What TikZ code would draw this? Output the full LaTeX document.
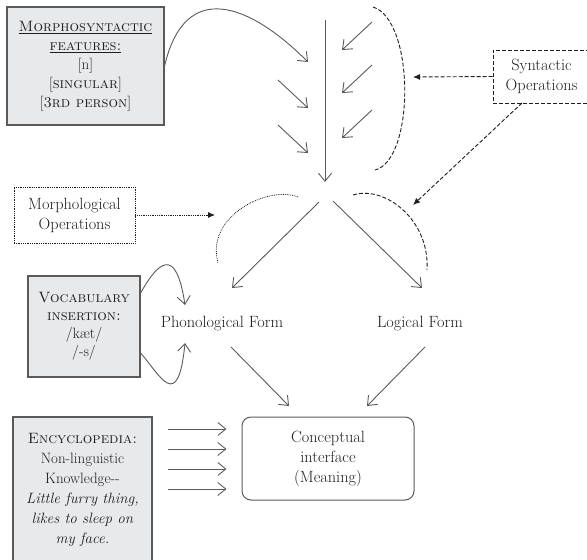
\documentclass[tikz,border=0pt]{standalone}
\usetikzlibrary{arrows.meta}
\definecolor{linegray}{HTML}{5A5A5A}
\definecolor{boxgray}{HTML}{E8E9EB}
\definecolor{inkgray}{HTML}{1E1E1E}
\begin{document}
\begin{tikzpicture}[x=1pt,y=-1pt,
  font=\fontsize{16.3}{20}\selectfont, text=inkgray,
  flow/.style={draw=linegray,line width=0.9pt,-{Straight Barb[length=8pt,width=13pt]}},
  graybox/.style={draw=linegray,fill=boxgray,line width=1.2pt,align=center,inner sep=0pt},
  opdashed/.style={draw=inkgray,line width=0.9pt,dash pattern=on 4pt off 2pt},
  opdotted/.style={draw=inkgray,line width=0.8pt,densely dotted},
  optip/.style={-{Latex[length=7pt,width=6pt]}}]
\useasboundingbox (0,0) rectangle (587,560);
% boxes on the left
\node[graybox,minimum width=157pt,minimum height=118pt,font=\fontsize{15}{19}\selectfont] (features) at (85.5,66)
  {\underline{\textsc{Morphosyntactic}}\\ \underline{\textsc{features:}}\\ {[n]}\\ {[\textsc{singular}]}\\ {[\textsc{3rd person}]}};
\node[opdotted,align=center,minimum width=121pt,minimum height=56pt] (morphops) at (74.5,215) {Morphological\\ Operations};
\node[graybox,minimum width=112pt,minimum height=101pt,font=\fontsize{15}{18}\selectfont] (vocab) at (84,326.5)
  {\textsc{Vocabulary}\\ \textsc{insertion:}\\ /kæt/\\ /-s/};
\node[graybox,minimum width=139pt,minimum height=145pt,font=\fontsize{15}{20}\selectfont] (ency) at (82.5,489.5)
  {\textsc{Encyclopedia:}\\ Non-linguistic\\ Knowledge-{}-\\ \textit{Little furry thing,}\\ \textit{likes to sleep on}\\ \textit{my face.}};
% boxes on the right
\node[opdashed,align=center,minimum width=97pt,minimum height=53pt] (synops) at (541.5,76.5) {Syntactic\\ Operations};
\node (pf) at (222,324) {Phonological Form};
\node (lf) at (420,324) {Logical Form};
\node[draw=linegray,line width=1pt,rounded corners=9pt,align=center,minimum width=172pt,minimum height=83pt] (concept) at (328,458.5)
  {Conceptual\\ interface\\ (Meaning)};
% syntax column
\coordinate (top) at (325,20);
\coordinate (split) at (325,182);
\draw[flow] (top) -- (split);
\draw[flow] (features.east |- 0,66) .. controls (185,-22) and (250,4) .. (308,62);
\foreach \y in {80,125} \draw[flow] (278,\y) -- (308,\y+28);
\foreach \y in {22,65,110} \draw[flow] (372,\y) -- (342,\y+28);
\draw[opdashed] (373,7) .. controls (415,20) and (415,160) .. (375,170);
\draw[opdashed,optip] (synops.west) -- (413,77);
\draw[opdashed,optip] (522,103) -- (413,205);
% branches
\coordinate (pfin) at (232,288);
\coordinate (lfin) at (422,288);
\draw[flow] (319,202) -- (pfin);
\draw[flow] (333,201) -- (lfin);
\draw[opdotted] (298,197) .. controls (270,185) and (205,215) .. (218,263);
\draw[opdotted,optip] (morphops.east) -- (215,215);
\draw[opdashed] (353,195) .. controls (385,185) and (430,220) .. (427,270);
% vocabulary insertion
\draw[flow] (vocab.east |- 0,293) .. controls (158,262) and (176,245) .. (185,305);
\draw[flow] (vocab.east |- 0,353) .. controls (160,375) and (178,414) .. (185,343);
% interface
\coordinate (pfout) at (231,347);
\coordinate (lfout) at (425,347);
\draw[flow] (pfout) -- (289,406);
\draw[flow] (lfout) -- (367,406);
\foreach \y in {429,449,469,489}
  \draw[flow] ([xshift=15pt]ency.east |- 0,\y) -- ([xshift=-15pt]concept.west |- 0,\y);
\end{tikzpicture}
\end{document}
